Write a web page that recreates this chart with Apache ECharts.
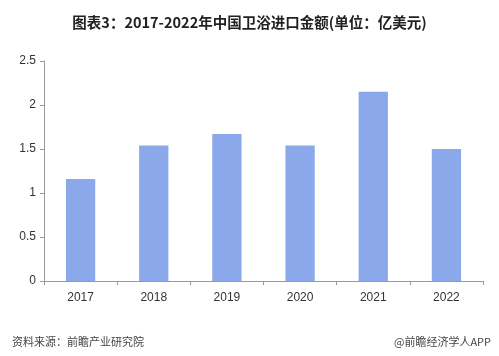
<!DOCTYPE html>
<html><head><meta charset="utf-8">
<script src="https://cdn.jsdelivr.net/npm/echarts@6/dist/echarts.min.js"></script>
<style>html,body{margin:0;padding:0;background:#fff}#c{width:499px;height:356px}</style>
</head><body><div id="c"></div>
<script>
const categories = ['2017','2018','2019','2020','2021','2022'];
const values = [1.16, 1.54, 1.67, 1.54, 2.15, 1.50];
const yTicks = [0, 0.5, 1, 1.5, 2, 2.5];

const chart = echarts.init(document.getElementById('c'));
chart.setOption({
  animation: false,
  title: [
    {text: '图表3：2017-2022年中国卫浴进口金额(单位：亿美元)', left: 'center', top: 10,
     textStyle: {fontSize: 14.5, fontWeight: 'bold', color: '#222', fontFamily: 'Noto Sans CJK SC'}},
    {text: '资料来源：前瞻产业研究院', left: 7, top: 331,
     textStyle: {fontSize: 11, fontWeight: 'normal', color: '#444', fontFamily: 'Noto Sans CJK SC'}},
    {text: '@前瞻经济学人APP', right: 3, top: 331,
     textStyle: {fontSize: 11, fontWeight: 'normal', color: '#444', fontFamily: 'Noto Sans CJK SC'}}
  ],
  grid: {left: 44, right: 16, top: 61, bottom: 75, containLabel: false},
  xAxis: {
    type: 'category', data: categories,
    axisLine: {lineStyle: {color: '#999'}},
    axisTick: {show: true, alignWithLabel: false, length: 4, lineStyle: {color: '#999'}},
    axisLabel: {color: '#333', fontSize: 12, margin: 11, fontFamily: 'Liberation Sans'}
  },
  yAxis: {
    type: 'value', min: 0, max: 2.5, interval: 0.5,
    axisLine: {show: true, lineStyle: {color: '#999'}},
    axisTick: {show: true, length: 4, lineStyle: {color: '#999'}},
    splitLine: {show: false},
    axisLabel: {color: '#333', fontSize: 12, margin: 8, fontFamily: 'Liberation Sans',
      formatter: v => yTicks.includes(v) ? String(v) : ''}
  },
  series: [{
    type: 'bar', data: values, barWidth: '40%',
    itemStyle: {color: '#8aa8ea'}
  }]
});
</script></body></html>
